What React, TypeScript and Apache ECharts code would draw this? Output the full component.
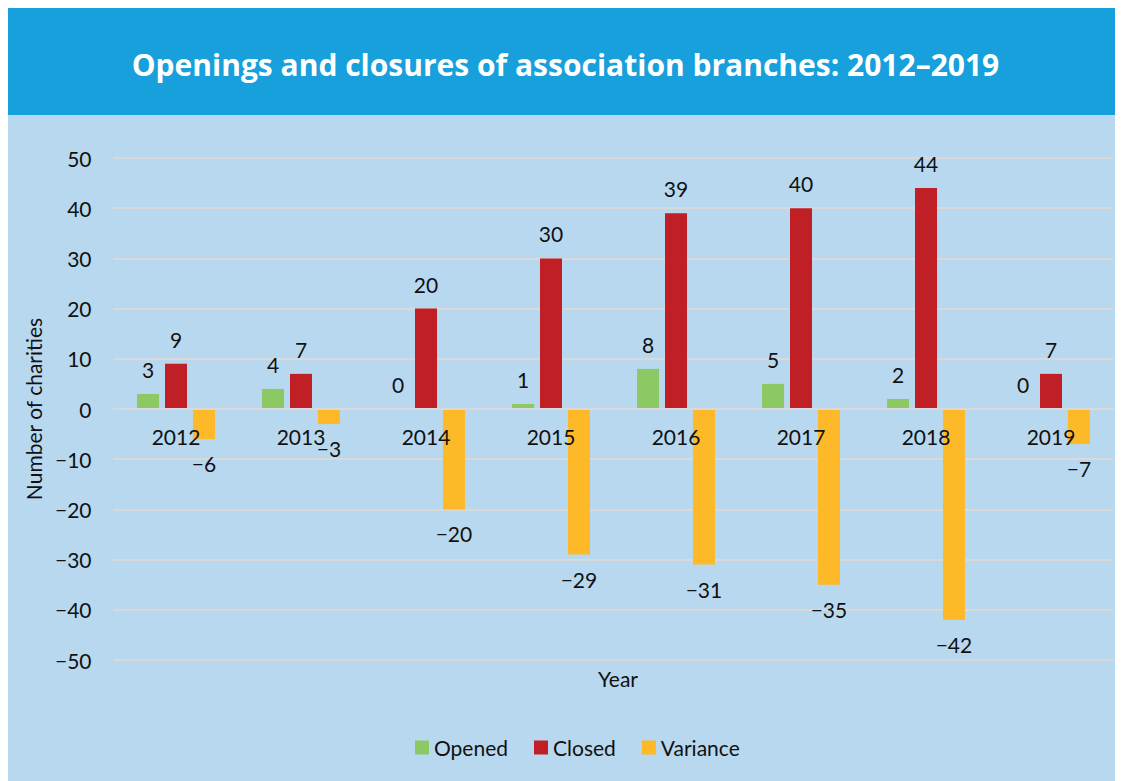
import React, { useEffect, useRef } from "react";
import * as echarts from "echarts";

const years = ["2012", "2013", "2014", "2015", "2016", "2017", "2018", "2019"];
const opened = [3, 4, 0, 1, 8, 5, 2, 0];
const closed = [9, 7, 20, 30, 39, 40, 44, 7];
const variance = [-6, -3, -20, -29, -31, -35, -42, -7];
const yTicks = { min: -50, max: 50, interval: 10 };

const FONT = "Lato, 'Noto Sans', sans-serif";
const minus = (v: number | string) => String(v).replace("-", "\u2212");

export default function App() {
  const ref = useRef<HTMLDivElement>(null);
  useEffect(() => {
    const chart = echarts.init(ref.current!, undefined, { renderer: "svg" });
    const label = (pos: string) => ({
      show: true,
      position: pos,
      distance: 14,
      color: "#111",
      fontSize: 21,
      fontFamily: FONT,
      formatter: (p: any) => minus(p.value),
    });
    const gridTop = 150;
    const gridH = 502;
    chart.setOption({
      animation: false,
      backgroundColor: "#b8d8ef",
      title: [
        {
          text: "Openings and closures of association branches: 2012\u20132019",
          left: "center",
          top: 36,
          textStyle: { color: "#fff", fontSize: 30, fontWeight: "bold", fontFamily: "'Open Sans', sans-serif" },
        },
        {
          text: "Year",
          left: 585,
          top: 655,
          textStyle: { color: "#111", fontSize: 21, fontWeight: "normal", fontFamily: FONT },
        },
      ],
      graphic: [
        { type: "rect", left: 0, top: 0, z: -1, shape: { width: 1115, height: 107 }, style: { fill: "#17a0db" } },
      ],
      legend: {
        bottom: 18,
        left: 402,
        itemWidth: 14,
        itemHeight: 14,
        itemGap: 26,
        icon: "rect",
        textStyle: { color: "#111", fontSize: 21, fontFamily: FONT },
        data: ["Opened", "Closed", "Variance"],
      },
      grid: { left: 105.5, right: 9.5, top: gridTop, height: gridH },
      xAxis: {
        type: "category",
        data: years,
        z: 5,
        offset: -gridH / 2,
        axisLine: { onZero: false, lineStyle: { color: "#d9d9d9", width: 2 } },
        axisTick: { show: false },
        axisLabel: { color: "#111", fontSize: 21, fontFamily: FONT, margin: 17 },
      },
      yAxis: {
        type: "value",
        min: yTicks.min,
        max: yTicks.max,
        interval: yTicks.interval,
        name: "Number of charities",
        nameLocation: "middle",
        nameRotate: 90,
        nameGap: 63,
        nameTextStyle: { color: "#111", fontSize: 21, fontFamily: FONT },
        axisLine: { show: false },
        axisTick: { show: false },
        axisLabel: { color: "#111", fontSize: 21, fontFamily: FONT, margin: 22, formatter: (v: number) => minus(v) },
        splitLine: { lineStyle: { color: "#d9d9d9", width: 2 } },
      },
      series: [
        { name: "Opened", type: "bar", data: opened, barWidth: 22, barGap: "27%", itemStyle: { color: "#8cc864" }, label: label("top") },
        { name: "Closed", type: "bar", data: closed, barWidth: 22, barGap: "27%", itemStyle: { color: "#c01f26" }, label: label("top") },
        { name: "Variance", type: "bar", data: variance, barWidth: 22, barGap: "27%", itemStyle: { color: "#fdb927" }, label: label("bottom") },
      ],
    });
    return () => chart.dispose();
  }, []);
  return <div ref={ref} style={{ width: 1115, height: 773 }} />;
}
